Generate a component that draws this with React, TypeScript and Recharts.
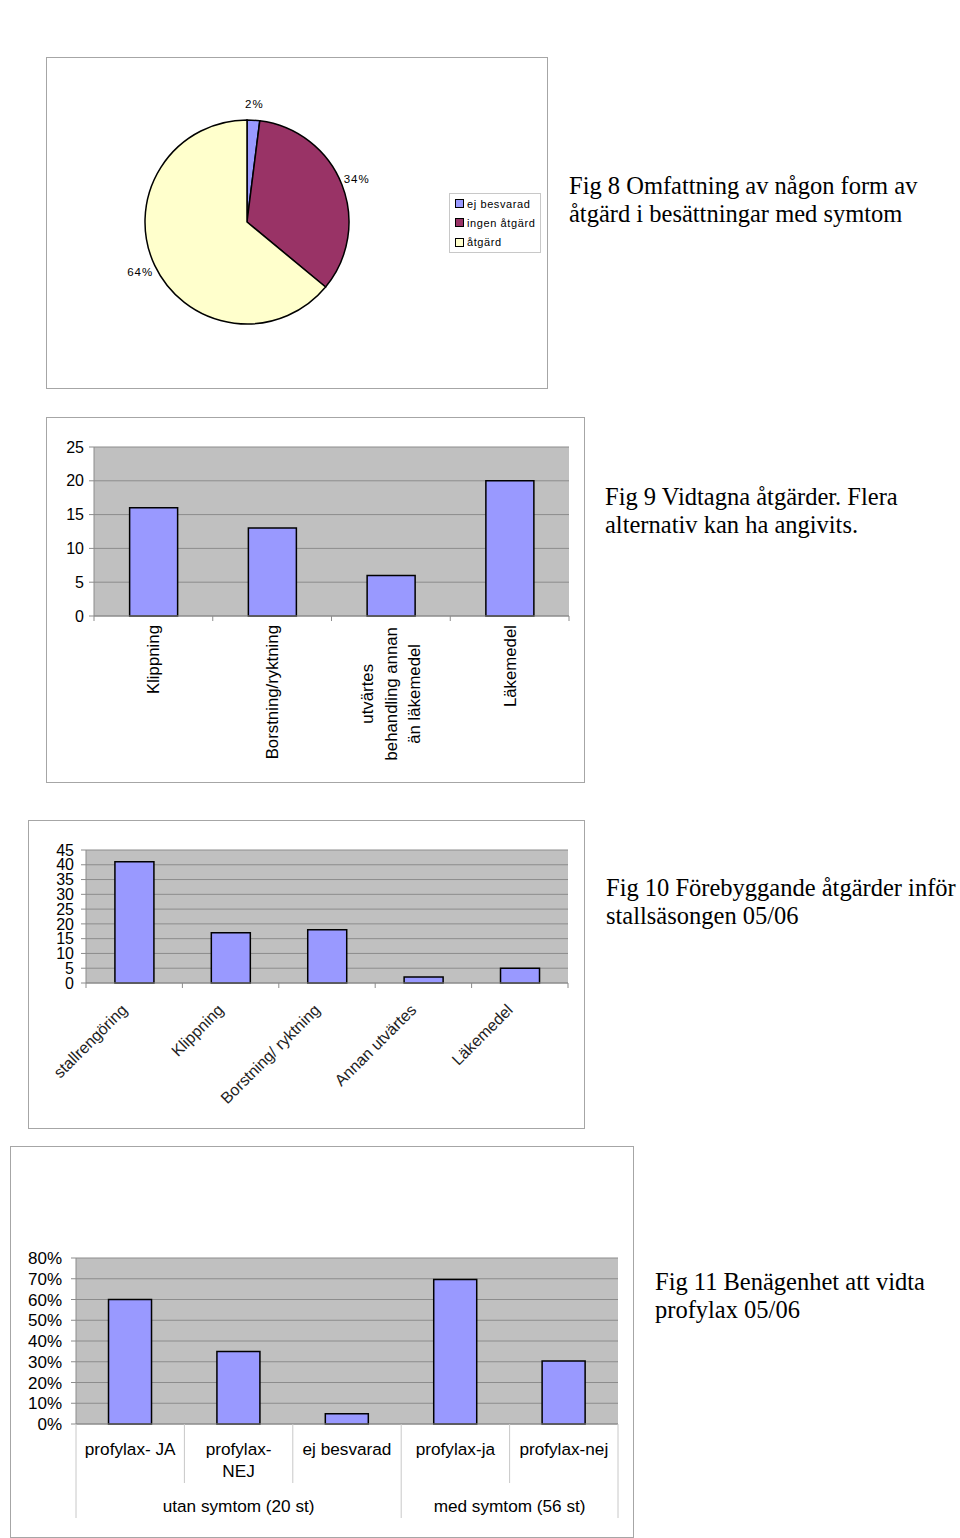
import React from 'react';
import { PieChart, Pie, Cell, Legend, BarChart, Bar, XAxis, YAxis, CartesianGrid } from 'recharts';

// Fig 8
const pieNames = ['ej besvarad', 'ingen åtgärd', 'åtgärd'];
const pieValues = [2, 34, 64];
const pieColors = ['#9999ff', '#993366', '#ffffcc'];

// Fig 9
const fig9Categories = ['Klippning', 'Borstning/ryktning', 'utvärtes\nbehandling annan\nän läkemedel', 'Läkemedel'];
const fig9Values = [16, 13, 6, 20];
const fig9Ticks = [0, 5, 10, 15, 20, 25];

// Fig 10
const fig10Categories = ['stallrengöring', 'Klippning', 'Borstning/ ryktning', 'Annan utvärtes', 'Läkemedel'];
const fig10Values = [41, 17, 18, 2, 5];
const fig10Ticks = [0, 5, 10, 15, 20, 25, 30, 35, 40, 45];

// Fig 11
const fig11Categories = ['profylax- JA', 'profylax-\nNEJ', 'ej besvarad', 'profylax-ja', 'profylax-nej'];
const fig11Groups = ['utan symtom (20 st)', 'utan symtom (20 st)', 'utan symtom (20 st)', 'med symtom (56 st)', 'med symtom (56 st)'];
const fig11Values = [0.6, 0.35, 0.05, 0.696, 0.304];
const fig11Ticks = [0, 0.1, 0.2, 0.3, 0.4, 0.5, 0.6, 0.7, 0.8];

const pieData = pieNames.map((name, i) => ({ name, value: pieValues[i] }));
const fig9Data = fig9Categories.map((name, i) => ({ name, value: fig9Values[i] }));
const fig10Data = fig10Categories.map((name, i) => ({ name, value: fig10Values[i] }));
const fig11Data = fig11Categories.map((name, i) => ({ name, group: fig11Groups[i], value: fig11Values[i] }));

const SANS = '"Liberation Sans", Arial, sans-serif';
const SERIF = '"Liberation Serif", "Times New Roman", serif';
const BAR_FILL = '#9999ff';
const PLOT_FILL = '#c0c0c0';
const GRID = '#8c8c8c';
const FRAME = '#a6a6a6';

const FIG9_PLOT_W = 475;
const FIG10_PLOT_W = 482;
const FIG11_PLOT_W = 542;

const boxStyle = (left: number, top: number, width: number, height: number): React.CSSProperties => ({
  position: 'absolute',
  left,
  top,
  width,
  height,
  boxSizing: 'border-box',
  border: `1px solid ${FRAME}`,
  background: '#fff',
});

const captionStyle = (left: number, top: number): React.CSSProperties => ({
  position: 'absolute',
  left,
  top,
  fontFamily: SERIF,
  fontSize: 24.5,
  lineHeight: '28px',
  whiteSpace: 'nowrap',
  color: '#000',
});

const renderPieLabel = (props: any) => {
  const { cx, cy, midAngle, outerRadius, value } = props;
  const RAD = Math.PI / 180;
  const r = outerRadius + 16;
  const x = cx + r * Math.cos(-midAngle * RAD);
  const y = cy + r * Math.sin(-midAngle * RAD);
  return (
    <text x={x} y={y} textAnchor="middle" dominantBaseline="central" fontFamily={SANS} fontSize={11.5} letterSpacing={1} fill="#000">
      {value}%
    </text>
  );
};

const renderPieLegend = (props: any) => {
  const { payload } = props;
  return (
    <div style={{ border: '1px solid #c8c8c8', padding: '0 4px 0 5px', fontFamily: SANS, fontSize: 11, letterSpacing: 0.6, background: '#fff', boxSizing: 'border-box', height: 60 }}>
      {payload.map((entry: any) => (
        <div key={entry.value} style={{ display: 'flex', alignItems: 'center', height: 19.3 }}>
          <span style={{ width: 7, height: 7, border: '1px solid #000', background: entry.color, marginRight: 3, display: 'inline-block' }} />
          <span>{entry.value}</span>
        </div>
      ))}
    </div>
  );
};

function Fig9Tick(props: any) {
  const { x, y, payload, index } = props;
  const bw = FIG9_PLOT_W / fig9Categories.length;
  const lines = String(payload.value).split('\n');
  const marks = [<line key="l" x1={x - bw / 2} x2={x - bw / 2} y1={y} y2={y + 5} stroke={GRID} />];
  if (index === fig9Categories.length - 1) {
    marks.push(<line key="r" x1={x + bw / 2} x2={x + bw / 2} y1={y} y2={y + 5} stroke={GRID} />);
  }
  if (lines.length === 1) {
    return (
      <g>
        {marks}
        <text x={x} y={y + 9} dy="0.35em" textAnchor="end" transform={`rotate(-90, ${x}, ${y + 9})`} fontFamily={SANS} fontSize={16.8} fill="#000">
          {lines[0]}
        </text>
      </g>
    );
  }
  const longest = Math.max(...lines.map((l) => l.length));
  const cy = y + 9 + longest * 4.3;
  const step = 23.5;
  return (
    <g>
      {marks}
      {lines.map((l, i) => {
        const lx = x + (i - (lines.length - 1) / 2) * step;
        return (
          <text key={i} x={lx} y={cy} dy="0.35em" textAnchor="middle" transform={`rotate(-90, ${lx}, ${cy})`} fontFamily={SANS} fontSize={16.8} fill="#000">
            {l}
          </text>
        );
      })}
    </g>
  );
}

function Fig10Tick(props: any) {
  const { x, y, payload, index } = props;
  const bw = FIG10_PLOT_W / fig10Categories.length;
  const px = x - 6;
  const py = y + 28;
  return (
    <g>
      <line x1={x - bw / 2} x2={x - bw / 2} y1={y} y2={y + 5} stroke={GRID} />
      {index === fig10Categories.length - 1 && <line x1={x + bw / 2} x2={x + bw / 2} y1={y} y2={y + 5} stroke={GRID} />}
      <text x={px} y={py} textAnchor="end" transform={`rotate(-45, ${px}, ${py})`} fontFamily={SANS} fontSize={16} fill="#222">
        {payload.value}
      </text>
    </g>
  );
}

function Fig11Tick(props: any) {
  const { x, y, payload, index } = props;
  const n = fig11Categories.length;
  const bw = FIG11_PLOT_W / n;
  const lines = String(payload.value).split('\n');
  const group = fig11Groups[index];
  const groupStart = index === 0 || fig11Groups[index - 1] !== group;
  const count = fig11Groups.filter((g) => g === group).length;
  const sep = '#c8c8c8';
  return (
    <g>
      <line x1={x - bw / 2} x2={x - bw / 2} y1={y} y2={groupStart ? y + 94 : y + 59} stroke={sep} />
      {index === n - 1 && <line x1={x + bw / 2} x2={x + bw / 2} y1={y} y2={y + 94} stroke={sep} />}
      {lines.map((l, i) => (
        <text key={i} x={x} y={y + 25 + i * 22} dy="0.35em" textAnchor="middle" fontFamily={SANS} fontSize={17.2} fill="#000">
          {l}
        </text>
      ))}
      {groupStart && (
        <text x={x + ((count - 1) * bw) / 2} y={y + 82} dy="0.35em" textAnchor="middle" fontFamily={SANS} fontSize={17.2} fill="#000">
          {group}
        </text>
      )}
    </g>
  );
}

const yTickStyle = { fontFamily: SANS, fontSize: 16, fill: '#000' };
const yTickStyle11 = { fontFamily: SANS, fontSize: 17, fill: '#000' };

export default function App() {
  return (
    <div style={{ position: 'absolute', left: 0, top: 0, width: 960, height: 1538, background: '#fff', overflow: 'hidden' }}>
      {/* Fig 8 */}
      <div style={boxStyle(46, 57, 502, 332)}>
        <PieChart width={500} height={330} margin={{ top: 0, right: 0, bottom: 0, left: 0 }}>
          <Pie
            data={pieData}
            dataKey="value"
            nameKey="name"
            cx={200}
            cy={164}
            outerRadius={102}
            startAngle={90}
            endAngle={-270}
            label={renderPieLabel}
            labelLine={false}
            isAnimationActive={false}
          >
            {pieData.map((d, i) => (
              <Cell key={d.name} fill={pieColors[i]} stroke="#000" strokeWidth={1.5} />
            ))}
          </Pie>
          <Legend
            layout="vertical"
            align="right"
            verticalAlign="middle"
            content={renderPieLegend}
            wrapperStyle={{ left: 402, top: 135, width: 92, right: 'auto', bottom: 'auto' }}
          />
        </PieChart>
      </div>
      <div style={captionStyle(569, 172)}>
        Fig 8 Omfattning av någon form av
        <br />
        åtgärd i besättningar med symtom
      </div>

      {/* Fig 9 */}
      <div style={boxStyle(46, 417, 539, 366)}>
        <BarChart width={537} height={364} data={fig9Data} margin={{ top: 29, right: 15, bottom: 0, left: 0 }} barCategoryGap="30%">
          <CartesianGrid yAxisId="l" vertical={false} fill={PLOT_FILL} fillOpacity={1} stroke={GRID} />
          <XAxis dataKey="name" height={166} interval={0} tickSize={0} tickMargin={0} tickLine={false} axisLine={{ stroke: GRID }} tick={<Fig9Tick />} />
          <YAxis yAxisId="l" width={47} domain={[0, 25]} ticks={fig9Ticks} interval={0} tickSize={5} tickMargin={5} axisLine={{ stroke: GRID }} tickLine={{ stroke: GRID }} tick={yTickStyle} />
          <YAxis yAxisId="r" orientation="right" width={0} domain={[0, 25]} tick={false} tickLine={false} axisLine={{ stroke: GRID }} />
          <Bar yAxisId="l" dataKey="value" fill={BAR_FILL} stroke="#000" strokeWidth={1.5} isAnimationActive={false} />
        </BarChart>
      </div>
      <div style={captionStyle(605, 483)}>
        Fig 9 Vidtagna åtgärder. Flera
        <br />
        alternativ kan ha angivits.
      </div>

      {/* Fig 10 */}
      <div style={boxStyle(28, 820, 557, 309)}>
        <BarChart width={555} height={307} data={fig10Data} margin={{ top: 29, right: 16, bottom: 0, left: 0 }} barCategoryGap="30%">
          <CartesianGrid yAxisId="l" vertical={false} fill={PLOT_FILL} fillOpacity={1} stroke={GRID} />
          <XAxis dataKey="name" height={145} interval={0} tickSize={0} tickMargin={0} tickLine={false} axisLine={{ stroke: GRID }} tick={<Fig10Tick />} />
          <YAxis yAxisId="l" width={57} domain={[0, 45]} ticks={fig10Ticks} interval={0} tickSize={5} tickMargin={7} axisLine={{ stroke: GRID }} tickLine={{ stroke: GRID }} tick={yTickStyle} />
          <YAxis yAxisId="r" orientation="right" width={0} domain={[0, 45]} tick={false} tickLine={false} axisLine={{ stroke: GRID }} />
          <Bar yAxisId="l" dataKey="value" fill={BAR_FILL} stroke="#000" strokeWidth={1.5} isAnimationActive={false} />
        </BarChart>
      </div>
      <div style={captionStyle(606, 874)}>
        Fig 10 Förebyggande åtgärder inför
        <br />
        stallsäsongen 05/06
      </div>

      {/* Fig 11 */}
      <div style={boxStyle(10, 1146, 624, 392)}>
        <BarChart width={622} height={390} data={fig11Data} margin={{ top: 111, right: 15, bottom: 0, left: 0 }} barCategoryGap="30%">
          <CartesianGrid yAxisId="l" vertical={false} fill={PLOT_FILL} fillOpacity={1} stroke={GRID} />
          <XAxis dataKey="name" height={113} interval={0} tickSize={0} tickMargin={0} tickLine={false} axisLine={{ stroke: GRID }} tick={<Fig11Tick />} />
          <YAxis
            yAxisId="l"
            width={65}
            domain={[0, 0.8]}
            ticks={fig11Ticks}
            interval={0}
            tickSize={5}
            tickMargin={9}
            axisLine={{ stroke: GRID }}
            tickLine={{ stroke: GRID }}
            tick={yTickStyle11}
            tickFormatter={(v: number) => `${Math.round(v * 100)}%`}
          />
          <YAxis yAxisId="r" orientation="right" width={0} domain={[0, 0.8]} tick={false} tickLine={false} axisLine={{ stroke: GRID }} />
          <Bar yAxisId="l" dataKey="value" fill={BAR_FILL} stroke="#000" strokeWidth={1.5} isAnimationActive={false} />
        </BarChart>
      </div>
      <div style={captionStyle(655, 1268)}>
        Fig 11 Benägenhet att vidta
        <br />
        profylax 05/06
      </div>
    </div>
  );
}
